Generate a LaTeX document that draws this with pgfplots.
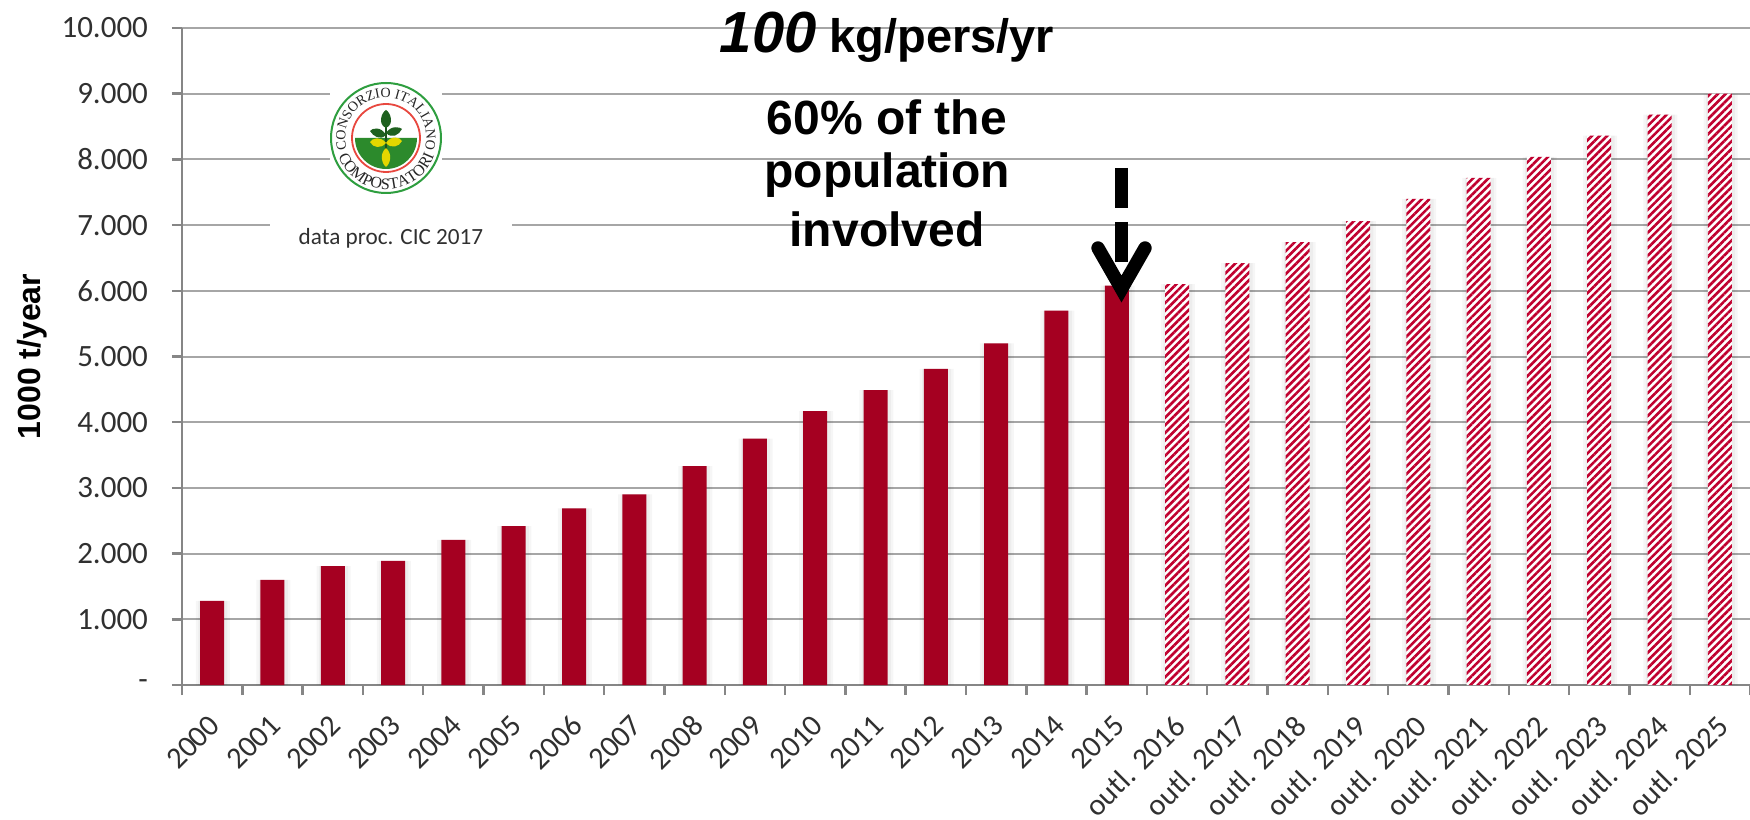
\documentclass[border=0pt]{standalone}
\usepackage{fontspec}
\setmainfont{Carlito}
\newfontfamily\arialfont{Liberation Sans}
\newfontfamily\logofont{Liberation Serif}
\usepackage{pgfplots}
\usepackage{pgfplotstable}
\pgfplotsset{compat=1.18}
\usetikzlibrary{patterns.meta,decorations.text}
\definecolor{barred}{HTML}{A50021}
\definecolor{hatchred}{HTML}{C0002F}
\definecolor{gridgray}{HTML}{A6A6A6}
\definecolor{axgray}{HTML}{868686}
\definecolor{ticktext}{HTML}{303030}
\definecolor{logogreen}{HTML}{2E9E3F}
\definecolor{soilgreen}{HTML}{2C8A2C}
\definecolor{logored}{HTML}{E8483F}

\pgfplotstableread{
pos value
0  1280
1  1600
2  1810
3  1890
4  2210
5  2420
6  2690
7  2900
8  3330
9  3750
10 4170
11 4490
12 4810
13 5200
14 5700
15 6080
}\actual
\pgfplotstableread{
pos value
16 6100
17 6420
18 6740
19 7060
20 7400
21 7720
22 8040
23 8360
24 8680
25 9000
}\outlook

\begin{document}
\begin{tikzpicture}
\path[use as bounding box] (-91pt,-67pt) rectangle (784pt,342.5pt);
\begin{axis}[
  at={(0,0)}, anchor=south west,
  scale only axis,
  width=784pt, height=328.5pt,
  ybar, bar width=12pt,
  xmin=-0.5, xmax=25.5,
  ymin=0, ymax=10000,
  axis x line=bottom, axis y line=left,
  axis line style={draw=axgray, line width=1.3pt, -},
  tick align=outside,
  scaled y ticks=false,
  ytick={0,1000,...,10000},
  yticklabels={{-\hspace{11pt}},1.000,2.000,3.000,4.000,5.000,6.000,7.000,8.000,9.000,10.000},
  ytick style={draw=axgray, line width=1.2pt},
  major tick length=5pt,
  ymajorgrids,
  grid style={draw=gridgray, line width=1pt},
  yticklabel style={font=\fontsize{15.5}{15.5}\selectfont, text=ticktext, xshift=-8.5pt},
  xtick={0,...,25},
  xticklabels={2000,2001,2002,2003,2004,2005,2006,2007,2008,2009,2010,2011,2012,2013,2014,2015,
    outl. 2016,outl. 2017,outl. 2018,outl. 2019,outl. 2020,outl. 2021,outl. 2022,outl. 2023,outl. 2024,outl. 2025},
  x tick style={draw=none},
  minor xtick={-0.5,0.5,...,25.5},
  minor x tick style={draw=axgray, line width=1.2pt},
  minor tick length=5pt,
  xticklabel style={font=\fontsize{15.2}{15.2}\selectfont, text=ticktext, rotate=45, anchor=north east, xshift=-4.5pt, yshift=-1.4pt},
  ylabel={\arialfont\bfseries 1000 t/year},
  ylabel style={font=\fontsize{16}{16}\selectfont, at={(axis description cs:0,0.5)}, anchor=south, yshift=64pt},
  every axis plot/.append style={bar shift=0pt},
  clip=false,
]
  % soft shadow behind the bars
  \addplot[draw=none, fill=black, opacity=0.035, bar width=17pt, bar shift=0.4pt] table[x=pos,y=value] {\actual};
  \addplot[draw=none, fill=black, opacity=0.035, bar width=14.5pt, bar shift=0.4pt] table[x=pos,y=value] {\actual};
  \addplot[draw=none, fill=black, opacity=0.035, bar width=17pt, bar shift=0.4pt] table[x=pos,y=value] {\outlook};
  \addplot[draw=none, fill=black, opacity=0.035, bar width=14.5pt, bar shift=0.4pt] table[x=pos,y=value] {\outlook};
  \addplot[draw=none, fill=barred] table[x=pos,y=value] {\actual};
  \addplot[draw=none, fill=white] table[x=pos,y=value] {\outlook};
  \addplot[draw=none, pattern={Lines[angle=45,distance=2.7pt,line width=1.3pt]}, pattern color=hatchred] table[x=pos,y=value] {\outlook};
\end{axis}

\begin{scope}[x=0.5pt,y=-0.5pt,shift={(-91pt,342.5pt)}]
  % titles
  \node[font=\arialfont\bfseries\fontsize{23.5}{23.5}\selectfont] at (887,37)
    {{\fontsize{29}{29}\selectfont\itshape 100} kg/pers/yr};
  \node[font=\arialfont\bfseries\fontsize{24}{24}\selectfont] at (887,117) {60\% of the};
  \node[font=\arialfont\bfseries\fontsize{24}{24}\selectfont] at (887,175) {population};
  \node[font=\arialfont\bfseries\fontsize{24}{24}\selectfont] at (887,229) {involved};

  % arrow
  \draw[line width=6.7pt] (1121.5,168) -- (1121.5,208);
  \draw[line width=6.7pt] (1121.5,222) -- (1121.5,262);
  \draw[line width=6.7pt, line cap=round, line join=miter] (1098,248) -- (1121.5,289) -- (1145,248);

  % logo and its note
  \fill[white] (330,78) rectangle (442,198);
  \fill[white] (270,212) rectangle (512,245);
  \node[font=\fontsize{11.6}{11.6}\selectfont, text=ticktext] at (391,238) {data proc. CIC 2017};
  \begin{scope}[shift={(386,138)},x=0.5pt,y=0.5pt]
    \draw[logogreen, line width=1pt] (0,0) circle (55);
    \draw[logored, line width=0.9pt] (0,0) circle (34);
    \fill[soilgreen] (-31,0) arc (180:360:31) -- cycle;
    \draw[soilgreen!60!black, line width=0.7pt] (0,-20) -- (0,18);
    \fill[soilgreen!70!black] (0,10) .. controls (-9,14) and (-4,26) .. (0,28) .. controls (4,26) and (9,14) .. (0,10) -- cycle;
    \fill[soilgreen!70!black] (0,3) .. controls (-5,12) and (-14,10) .. (-16,7) .. controls (-13,2) and (-6,-3) .. (0,3) -- cycle;
    \fill[soilgreen!70!black] (0,5) .. controls (5,13) and (14,11) .. (16,9) .. controls (13,3) and (6,-1) .. (0,5) -- cycle;
    \fill[yellow!75!olive] (0,-5) .. controls (-5,2) and (-14,0) .. (-16,-4) .. controls (-13,-10) and (-5,-11) .. (0,-5) -- cycle;
    \fill[yellow!75!olive] (0,-5) .. controls (5,3) and (14,1) .. (16,-3) .. controls (13,-9) and (5,-11) .. (0,-5) -- cycle;
    \fill[yellow!75!olive] (0,-10) .. controls (-7,-16) and (-4,-26) .. (0,-29) .. controls (4,-26) and (7,-16) .. (0,-10) -- cycle;
    \path[decorate, decoration={text along path, text align=center,
        text={|\logofont\fontsize{7}{7}\selectfont\color{black!85}|CONSORZIO ITALIANO}}]
      (-38.5,-13) arc (199:-19:40.5);
    \path[decorate, decoration={text along path, text align=center,
        text={|\logofont\fontsize{8}{8}\selectfont\color{black!85}|COMPOSTATORI}}]
      (-48,-17) arc (199:341:51);
  \end{scope}
\end{scope}
\end{tikzpicture}
\end{document}
